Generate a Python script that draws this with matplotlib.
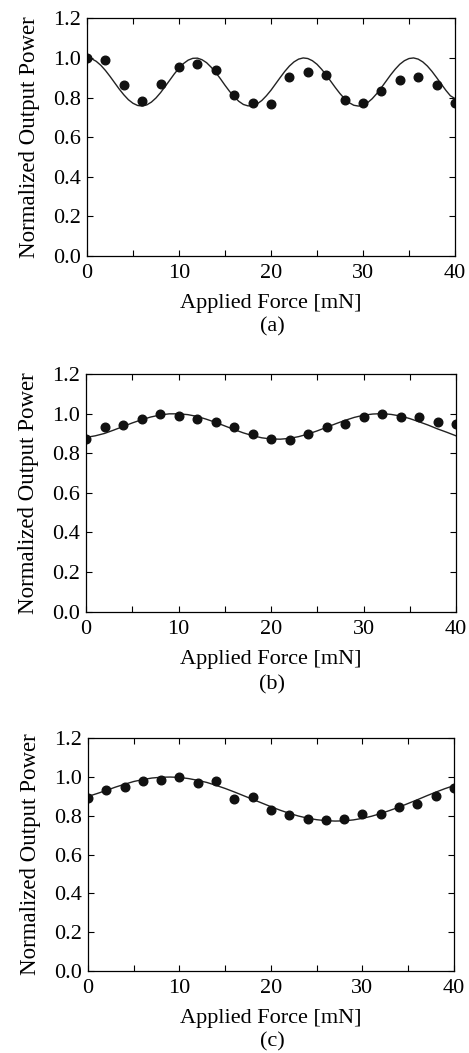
import matplotlib
matplotlib.use("Agg")
import matplotlib.pyplot as plt
from matplotlib.ticker import MultipleLocator

plt.rcParams['font.family'] = ['Liberation Serif', 'DejaVu Serif']
plt.rcParams['font.size'] = 16

# measured force steps (mN)
force = [0, 2, 4, 6, 8, 10, 12, 14, 16, 18, 20, 22, 24, 26, 28, 30, 32, 34, 36, 38, 40]
# fitted curves (a: every 0.5 mN, b/c: every 1 mN)
force_fit_a = [i * 0.5 for i in range(81)]
force_fit = list(range(0, 41))

meas_a = [1.00, 0.988, 0.864, 0.785, 0.866, 0.955, 0.968, 0.941, 0.812, 0.771, 0.765,
          0.904, 0.929, 0.916, 0.787, 0.771, 0.834, 0.889, 0.904, 0.862, 0.773]
fit_a = [1.000, 0.996, 0.983, 0.963, 0.937, 0.907, 0.875, 0.843, 0.814, 0.789,
         0.771, 0.760, 0.757, 0.763, 0.777, 0.798, 0.825, 0.856, 0.888, 0.920,
         0.948, 0.972, 0.989, 0.998, 0.999, 0.991, 0.976, 0.953, 0.926, 0.895,
         0.862, 0.831, 0.804, 0.781, 0.765, 0.758, 0.759, 0.768, 0.785, 0.809,
         0.837, 0.869, 0.901, 0.932, 0.959, 0.980, 0.994, 1.000, 0.997, 0.986,
         0.968, 0.943, 0.914, 0.882, 0.850, 0.820, 0.794, 0.774, 0.761, 0.757,
         0.761, 0.774, 0.794, 0.820, 0.850, 0.882, 0.914, 0.943, 0.968, 0.986,
         0.997, 1.000, 0.994, 0.980, 0.959, 0.932, 0.901, 0.869, 0.837, 0.809,
         0.795]

meas_b = [0.870, 0.932, 0.942, 0.973, 1.00, 0.990, 0.971, 0.956, 0.932, 0.895, 0.872,
          0.865, 0.895, 0.932, 0.949, 0.983, 0.996, 0.985, 0.983, 0.958, 0.947]
fit_b = [0.880, 0.888, 0.900, 0.917, 0.935, 0.953, 0.969, 0.983, 0.993, 0.999, 0.999,
         0.995, 0.986, 0.972, 0.956, 0.938, 0.920, 0.903, 0.889, 0.878, 0.872, 0.871,
         0.875, 0.884, 0.897, 0.913, 0.931, 0.949, 0.966, 0.981, 0.992, 0.998, 1.000,
         0.996, 0.988, 0.975, 0.959, 0.942, 0.923, 0.906, 0.888]

meas_c = [0.894, 0.935, 0.947, 0.982, 0.985, 1.000, 0.968, 0.980, 0.885, 0.899, 0.829,
          0.806, 0.782, 0.780, 0.786, 0.811, 0.811, 0.844, 0.860, 0.904, 0.942]
fit_c = [0.900, 0.915, 0.931, 0.948, 0.963, 0.977, 0.987, 0.995, 0.999, 1.000, 0.998,
         0.992, 0.983, 0.972, 0.957, 0.941, 0.923, 0.904, 0.885, 0.866, 0.847, 0.829,
         0.813, 0.799, 0.788, 0.780, 0.775, 0.773, 0.774, 0.779, 0.787, 0.798, 0.812,
         0.828, 0.845, 0.864, 0.883, 0.903, 0.922, 0.940, 0.956]

panels = [
    ("(a)", meas_a, force_fit_a, fit_a, [0.1855, 0.7569, 0.7846, 0.2257], 0.6895),
    ("(b)", meas_b, force_fit, fit_b, [0.1834, 0.4191, 0.7889, 0.2257], 0.3495),
    ("(c)", meas_c, force_fit, fit_c, [0.1876, 0.0779, 0.7804, 0.2210], 0.0104),
]

fig = plt.figure(figsize=(4.69, 10.53), dpi=100)

for tag, meas, xf, fit, rect, ytag in panels:
    ax = fig.add_axes(rect)
    ax.plot(xf, fit, color='#222222', lw=1.0)
    ax.plot(force, meas, 'o', color='#111111', ms=6.2)
    ax.set_xlim(0, 40)
    ax.set_ylim(0, 1.2)
    ax.xaxis.set_major_locator(MultipleLocator(10))
    ax.xaxis.set_minor_locator(MultipleLocator(5))
    ax.yaxis.set_major_locator(MultipleLocator(0.2))
    ax.yaxis.set_major_formatter(plt.FormatStrFormatter('%.1f'))
    ax.tick_params(which='both', direction='in', top=True, right=True, width=0.8)
    ax.tick_params(which='major', length=4)
    ax.tick_params(which='minor', length=4)
    ax.tick_params(axis='x', pad=6)
    ax.tick_params(axis='y', pad=4)
    for s in ax.spines.values():
        s.set_linewidth(0.9)
    ax.set_xlabel("Applied Force [mN]", labelpad=8)
    ax.set_ylabel("Normalized Output Power", labelpad=10, fontsize=16.5)
    fig.text(0.58, ytag, tag, ha='center', va='center', fontsize=16)

fig.savefig("out.png", dpi=100)
